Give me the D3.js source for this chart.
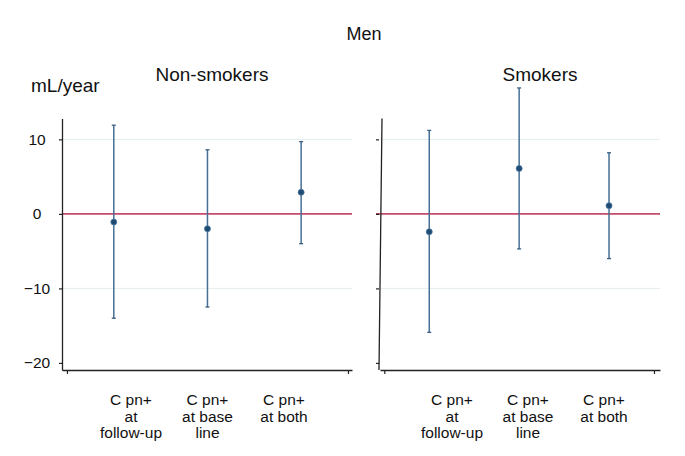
<!DOCTYPE html>
<html>
<head>
<meta charset="utf-8">
<script src="https://cdn.jsdelivr.net/npm/d3@7"></script>
<style>
  body { margin: 0; background: #fff; }
  text { font-family: "Liberation Sans", Arial, sans-serif; fill: #111; }
</style>
</head>
<body>
<svg width="685" height="456"></svg>
<script>
const categories = ["C pn+ at follow-up", "C pn+ at base line", "C pn+ at both"];
const catLines = [["C pn+", "at", "follow-up"], ["C pn+", "at base", "line"], ["C pn+", "at both"]];
const nonSmokers = [-1.1, -2.0, 2.9];
const nonSmokersLow = [-14.0, -12.5, -4.0];
const nonSmokersHigh = [11.9, 8.6, 9.7];
const smokers = [-2.4, 6.1, 1.1];
const smokersLow = [-15.9, -4.7, -6.0];
const smokersHigh = [11.2, 16.9, 8.2];
const yTicks = [10, 0, -10, -20];

const svg = d3.select('svg');

const y = d3.scaleLinear().domain([-20.95, 12.8]).range([370, 118.5]);

svg.append('text').attr('x', 364).attr('y', 40)
   .attr('text-anchor', 'middle').style('font-size', '18px').text('Men');
svg.append('text').attr('x', 31).attr('y', 92)
   .style('font-size', '19px').text('mL/year');

const panels = [
  {title: "Non-smokers", titleX: 212, est: nonSmokers, lo: nonSmokersLow, hi: nonSmokersHigh,
   left: 62, right: 352, dom: [0.447, 3.543], labelRange: [131, 284], showLabels: true},
  {title: "Smokers", titleX: 540, est: smokers, lo: smokersLow, hi: smokersHigh,
   left: 380, right: 660, dom: [0.452, 3.567], labelRange: [452, 604], showLabels: false}
];

panels.forEach(p => {
  const x = d3.scaleLinear().domain(p.dom).range([p.left, p.right]);
  const g = svg.append('g');

  svg.append('text').attr('x', p.titleX).attr('y', 81)
     .attr('text-anchor', 'middle').style('font-size', '19px').text(p.title);

  // grid
  g.selectAll('.grid').data([10, -10]).enter().append('line')
   .attr('x1', p.left).attr('x2', p.right)
   .attr('y1', d => y(d)).attr('y2', d => y(d))
   .attr('stroke', '#e4ecef').attr('stroke-width', 1);

  // reference line
  g.append('line').attr('x1', p.showLabels ? p.left : p.left - 4).attr('x2', p.right)
   .attr('y1', y(0)).attr('y2', y(0))
   .attr('stroke', '#c64a6a').attr('stroke-width', 1.8);

  // y axis
  const ya = g.append('g').attr('transform', `translate(${p.left},0)`)
    .call(d3.axisLeft(y).tickValues(yTicks).tickSize(p.showLabels ? 3 : 4).tickSizeOuter(0)
      .tickFormat(p.showLabels ? d3.format('d') : ''));
  ya.select('.domain').attr('stroke', '#222').attr('stroke-width', 1.3);
  // the smokers' axis leans a little in the scan
  if (!p.showLabels) ya.select('.domain').attr('d', `M2,${y.range()[1]}L-1,${y.range()[0]}`);
  ya.selectAll('.tick line').attr('stroke', '#222').attr('stroke-width', 1.2);
  if (!p.showLabels) ya.selectAll('.tick line').attr('x1', -1);
  ya.selectAll('.tick text').attr('text-anchor', 'middle').attr('x', 37 - p.left)
    .style('font-size', '15.5px').style('font-family', '"Liberation Sans", Arial, sans-serif')
    .attr('fill', '#111');

  // x axis
  const xa = g.append('g').attr('transform', `translate(0,370)`)
    .call(d3.axisBottom(x).tickValues([0.5, 3.5]).tickSize(4).tickSizeOuter(0).tickFormat(''));
  xa.select('.domain').attr('stroke', '#222').attr('stroke-width', 1.3);
  xa.selectAll('.tick line').attr('stroke', '#222').attr('stroke-width', 1.2);

  // category labels
  const lx = d3.scalePoint().domain(categories).range(p.labelRange);
  const lab = g.selectAll('.lab').data(categories).enter().append('text')
    .attr('text-anchor', 'middle').style('font-size', '15.5px')
    .attr('transform', d => `translate(${lx(d)},405)`);
  lab.selectAll('tspan').data((d, i) => catLines[i]).enter().append('tspan')
    .attr('x', 0).attr('y', (d, i) => i * 16.5).text(d => d);

  // error bars
  const idx = d3.range(p.est.length);
  g.selectAll('.ci').data(idx).enter().append('line')
   .attr('x1', i => x(i + 1)).attr('x2', i => x(i + 1))
   .attr('y1', i => y(p.lo[i])).attr('y2', i => y(p.hi[i]))
   .attr('stroke', '#456f95').attr('stroke-width', 1.5);
  [p.lo, p.hi].forEach(arr => {
    g.selectAll(null).data(idx).enter().append('line')
     .attr('x1', i => x(i + 1) - 2).attr('x2', i => x(i + 1) + 2)
     .attr('y1', i => y(arr[i])).attr('y2', i => y(arr[i]))
     .attr('stroke', '#3a5d80').attr('stroke-width', 1.3);
  });
  g.selectAll('.pt').data(idx).enter().append('circle')
   .attr('cx', i => x(i + 1)).attr('cy', i => y(p.est[i])).attr('r', 3)
   .attr('fill', '#1f4a72').attr('stroke', '#4a7aa3').attr('stroke-width', 0.8);
});
</script>
</body>
</html>
